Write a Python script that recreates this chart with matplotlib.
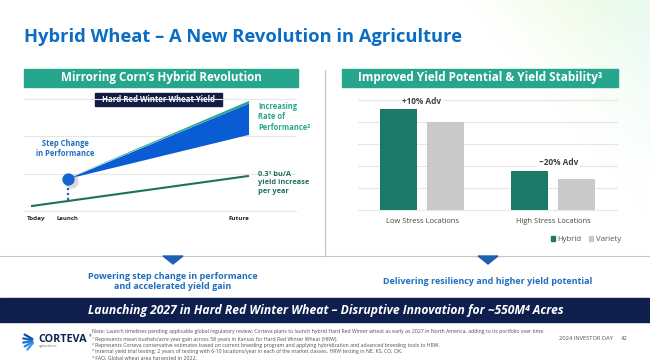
import matplotlib
matplotlib.use('Agg')
import matplotlib.pyplot as plt
import numpy as np
from matplotlib.patches import Rectangle, Polygon
from matplotlib.patches import Patch

plt.rcParams['font.family'] = ['Open Sans', 'DejaVu Sans']

# ---------------- data ----------------
categories = ["Low Stress Locations", "High Stress Locations"]
hybrid_yield = [4.6, 1.78]
variety_yield = [4.0, 1.42]
adv_labels = ["+10% Adv", "~20% Adv"]
adv_label_x = [0.0, 1.04]
adv_label_y = [4.95, 2.15]

milestones = ["Today", "Launch", "Future"]
milestone_x = [0.0, 1.35, 8.0]
trend_x = [0.0, 8.0]
trend_y = [0.13, 0.94]
launch_x = 1.35
launch_y = 0.86
future_x = 8.0
hybrid_upper = 2.88
hybrid_lower = 2.04
hybrid_edge = 2.95

footnotes = [
    "Note: Launch timelines pending applicable global regulatory review; Corteva plans to launch hybrid Hard Red Winter wheat as early as 2027 in North America, adding to its portfolio over time.",
    "\u00b9 Represents mean bushels/acre year gain across 58 years in Kansas for Hard Red Winter Wheat (HRW).",
    "\u00b2 Represents Corteva conservative estimates based on current breeding program and applying hybridization and advanced breeding tools to HRW.",
    "\u00b3 Internal yield trial testing; 2 years of testing with 6-10 locations/year in each of the market classes. HRW testing in NE, KS, CO, OK.",
    "\u2074 FAO, Global wheat area harvested in 2022.",
]

# ---------------- colours ----------------
TITLE_BLUE = "#0b6cc4"
TEAL = "#27a68e"
NAVY_BOX = "#111d45"
HYBRID = "#1b7a68"
VARIETY = "#c9c9c9"
TREND = "#1f6f5e"
WEDGE = "#0a5cd4"
TEXT_BLUE = "#1e6fc0"
BANNER = "#0e1f4d"
GRID = "#e6e6e6"

W, H = 650, 364
fig = plt.figure(figsize=(6.5, 3.64), dpi=100)
bg = fig.add_axes([0, 0, 1, 1])
bg.set_xlim(0, W)
bg.set_ylim(H, 0)
bg.axis('off')

renderer = fig.canvas.get_renderer()


def fit(t, width):
    bb = t.get_window_extent(renderer)
    t.set_fontsize(t.get_fontsize() * width / bb.width)
    return t


def rect(x0, y0, x1, y1):
    return [x0 / W, 1 - y1 / H, (x1 - x0) / W, (y1 - y0) / H]


# subtle pastel background tint top-right
yy, xx = np.mgrid[0:H, 0:W]
v = np.clip((xx - 460 - 0.85 * yy) / 140.0, 0, 1)
fade = np.clip(1 - yy / 300.0, 0, 1)
alpha = v * fade * 0.6
mix = np.clip((xx - 560) / 90.0, 0, 1)
img = np.zeros((H, W, 4))
img[..., 0] = 0.90 - 0.04 * mix
img[..., 1] = 0.98
img[..., 2] = 0.82 + 0.10 * mix
img[..., 3] = alpha
bg.imshow(img, extent=(0, W, H, 0), zorder=0, aspect='auto')
bg.set_xlim(0, W)
bg.set_ylim(H, 0)

# title
t = bg.text(24, 37, "Hybrid Wheat \u2013 A New Revolution in Agriculture", color=TITLE_BLUE,
            fontsize=13, fontweight='bold', ha='left', va='center')
fit(t, 434)

# panel headers
bg.add_patch(Rectangle((24, 69), 274, 18, color=TEAL, zorder=2))
bg.add_patch(Rectangle((342, 69), 276, 18, color=TEAL, zorder=2))
t = bg.text(161, 78, "Mirroring Corn\u2019s Hybrid Revolution", color='white', fontsize=8,
            fontweight='bold', ha='center', va='center', zorder=3)
fit(t, 203)
t = bg.text(480, 78, "Improved Yield Potential & Yield Stability\u00b3", color='white', fontsize=8,
            fontweight='bold', ha='center', va='center', zorder=3)
fit(t, 244)

# divider lines
bg.plot([325, 325], [70, 256], color='#c4c4c4', lw=0.8, zorder=1)
bg.plot([0, W], [256, 256], color='#c4c4c4', lw=0.8, zorder=1)

# ---------------- left chart ----------------
axL = fig.add_axes(rect(24, 86, 297, 230))
axL.set_xlim(-0.257, 9.76)
axL.set_ylim(-0.51, 3.35)
axL.axis('off')
axL.patch.set_alpha(0)
for g in [0, 1, 2, 3]:
    axL.axhline(g, color=GRID, lw=0.8, zorder=0)

axL.plot(trend_x, trend_y, color=TREND, lw=1.5, zorder=2, solid_capstyle='butt')
axL.fill([launch_x, future_x, future_x], [launch_y, hybrid_upper, hybrid_lower],
         color=WEDGE, zorder=3, lw=0)
axL.fill([launch_x, future_x, future_x], [launch_y + 0.02, hybrid_edge, hybrid_upper],
         color=TEAL, zorder=4, lw=0)
base_at_launch = trend_y[0] + (trend_y[1] - trend_y[0]) * launch_x / (trend_x[1] - trend_x[0])
axL.plot([launch_x, launch_x], [base_at_launch + 0.02, launch_y - 0.12], color=TEXT_BLUE, lw=1.6,
         ls=(0, (1, 1.2)), zorder=2)
axL.scatter([launch_x + 0.12], [launch_y - 0.06], s=110, color='#9a9a9a', alpha=0.35, zorder=4, lw=0)
axL.scatter([launch_x], [launch_y], s=78, color='#1565d0', zorder=5, lw=0)

t = axL.text(milestone_x[0] - 0.15, -0.19, milestones[0], ha='left', va='center', fontsize=5,
             fontweight='bold', color='#222222')
fit(t, 19)
t = axL.text(milestone_x[1], -0.19, milestones[1], ha='center', va='center', fontsize=5,
             fontweight='bold', color='#222222')
fit(t, 22)
t = axL.text(milestone_x[2], -0.19, milestones[2], ha='right', va='center', fontsize=5,
             fontweight='bold', color='#222222')
fit(t, 21)

t = axL.text(1.25, 1.68, "Step Change\nin Performance", ha='center', va='center', fontsize=6,
             fontweight='bold', color=TEXT_BLUE, linespacing=1.15)
fit(t, 58)
t = axL.text(8.33, 2.52, "Increasing\nRate of\nPerformance\u00b2", ha='left', va='center', fontsize=6,
             fontweight='bold', color=TEAL, linespacing=1.25, clip_on=False)
fit(t, 52)
t = axL.text(8.33, 0.75, "0.3\u00b9 bu/A\nyield increase\nper year", ha='left', va='center', fontsize=6,
             fontweight='bold', color=TREND, linespacing=1.25, clip_on=False)
fit(t, 51)

# navy label box
bg.add_patch(Rectangle((95, 93), 127, 13, color=NAVY_BOX, zorder=6))
t = bg.text(158.5, 99.5, "Hard Red Winter Wheat Yield", color='white', fontsize=5.5,
            fontweight='bold', ha='center', va='center', zorder=7)
fit(t, 112)

# ---------------- right chart ----------------
axR = fig.add_axes(rect(358, 95, 618, 230))
axR.set_xlim(-0.489, 1.496)
axR.set_ylim(-0.909, 5.227)
axR.axis('off')
axR.patch.set_alpha(0)
for g in range(6):
    axR.axhline(g, color=GRID, lw=0.8, zorder=0)
x = np.arange(len(categories))
axR.bar(x - 0.18, hybrid_yield, 0.282, color=HYBRID, zorder=2, label='Hybrid')
axR.bar(x + 0.18, variety_yield, 0.282, color=VARIETY, zorder=2, label='Variety')
for i in range(len(adv_labels)):
    t = axR.text(adv_label_x[i], adv_label_y[i], adv_labels[i], ha='center', va='center', fontsize=6,
                 fontweight='bold', color='#404040', zorder=3,
                 bbox=dict(fc='white', ec='none', pad=1.2))
    fit(t, 39.5)
cat_w = [74, 76]
for i, c in enumerate(categories):
    t = axR.text(x[i], -0.545, c, ha='center', va='center', fontsize=6, color='#444444')
    fit(t, cat_w[i])

leg = fig.legend(handles=[Patch(color=HYBRID, label='Hybrid'), Patch(color=VARIETY, label='Variety')],
                 loc='center right', bbox_to_anchor=(621 / W, 1 - 239.5 / H), ncol=2, frameon=False,
                 fontsize=5.6, handlelength=0.55, handleheight=0.55, handletextpad=0.35,
                 columnspacing=0.9, borderpad=0, borderaxespad=0, labelcolor='#555555')

# ---------------- bottom ----------------
for cx in [173, 488]:
    bg.add_patch(Polygon([(cx - 10, 256), (cx + 10, 256), (cx, 264)], closed=True,
                         color='#1c5fb3', zorder=3))
t = bg.text(173, 281.5, "Powering step change in performance\nand accelerated yield gain", ha='center',
            va='center', color=TEXT_BLUE, fontsize=7, fontweight='bold', linespacing=1.2)
fit(t, 170)
t = bg.text(488, 282, "Delivering resiliency and higher yield potential", ha='center', va='center',
            color=TEXT_BLUE, fontsize=7, fontweight='bold')
fit(t, 209)

bg.add_patch(Rectangle((0, 298), W, 24, color=BANNER, zorder=2))
t = bg.text(325.5, 310.5, "Launching 2027 in Hard Red Winter Wheat \u2013 Disruptive Innovation for ~550M\u2074 Acres",
            ha='center', va='center', color='white', fontsize=10, fontweight='bold', fontstyle='italic',
            zorder=3, family=['Open Sans', 'DejaVu Sans'])
fit(t, 475)

# footnotes
fy = [332, 339, 345.5, 352, 358.5]
fn_texts = []
for i, s in enumerate(footnotes):
    t = bg.text(92, fy[i], s, ha='left', va='center', color='#505050', fontsize=3.3)
    fn_texts.append(t)
fit(fn_texts[0], 461)
for t in fn_texts[1:]:
    t.set_fontsize(fn_texts[0].get_fontsize())

t = bg.text(559, 338, "2024 INVESTOR DAY", ha='left', va='center', color='#505050', fontsize=4.5)
fit(t, 54)
bg.text(628, 338, "42", ha='right', va='center', color='#505050', fontsize=t.get_fontsize())

# logo
angles = np.deg2rad([150, 170, 190, 210, 230])
cols = ['#0a4fa0', '#1260b8', '#1b72cc', '#2a86dc', '#3b98e6']
for a, c in zip(angles, cols):
    x0, y0 = 35, 340.5
    bg.plot([x0 + 3 * np.cos(a), x0 + 12 * np.cos(a)], [y0 - 3 * np.sin(a), y0 - 12 * np.sin(a)],
            color=c, lw=1.6, solid_capstyle='round')
t = bg.text(38, 339, "CORTEVA", ha='left', va='center', color='#0d2151', fontsize=7, fontweight='bold')
fit(t, 49)
bg.text(88.5, 336, "\u00ae", ha='left', va='center', color='#0d2151', fontsize=2.5)
bg.text(39, 346.5, "agriscience", ha='left', va='center', color='#6a6a6a', fontsize=2.6)

fig.savefig('out.png', dpi=100)
